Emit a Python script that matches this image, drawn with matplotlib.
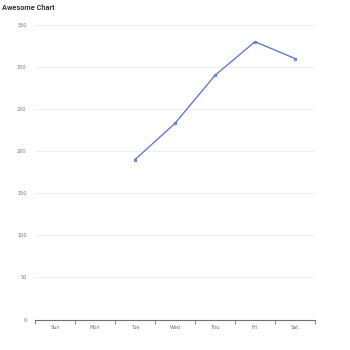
import numpy as np
import matplotlib
matplotlib.use('Agg')
import matplotlib.pyplot as plt

# Chart data
days = ['Sun', 'Mon', 'Tue', 'Wed', 'Thu', 'Fri', 'Sat']
values = [np.nan, np.nan, 190, 233, 290, 330, 310]
y_ticks = [0, 50, 100, 150, 200, 250, 300, 350]

fig = plt.figure(figsize=(3.5, 3.5), dpi=100)
ax = fig.add_axes([0.1, 0.087, 0.8, 0.842])

x = np.arange(len(days))
ax.plot(x, values, color='#5470c6', linewidth=0.9, marker='o', markersize=1.8,
        markerfacecolor='#8fa0dc', markeredgecolor='#5470c6', markeredgewidth=0.6, zorder=3)

ax.set_xlim(-0.5, len(days) - 0.5)
ax.set_ylim(0, 350)
ax.set_yticks(y_ticks)
ax.set_xticks(x)
ax.set_xticklabels(days)
ax.set_xticks(np.arange(-0.5, len(days)), minor=True)

# Grid and spines
ax.grid(axis='y', color='#EBEEF5', linewidth=0.7)
ax.set_axisbelow(True)
for side in ['top', 'right', 'left']:
    ax.spines[side].set_visible(False)
ax.spines['bottom'].set_color('#6E7079')
ax.spines['bottom'].set_linewidth(0.8)

ax.tick_params(axis='x', which='major', length=0, pad=4, labelsize=3.6, labelcolor='#6E7079')
ax.tick_params(axis='x', which='minor', length=3, color='#6E7079', width=0.6)
ax.tick_params(axis='y', length=0, pad=6, labelsize=3.6, labelcolor='#6E7079')

fig.text(0.006, 0.99, 'Awesome Chart', fontsize=5.3, fontweight='bold', color='#333333',
         family='Roboto', va='top', ha='left')

plt.savefig('out.png', dpi=100)
